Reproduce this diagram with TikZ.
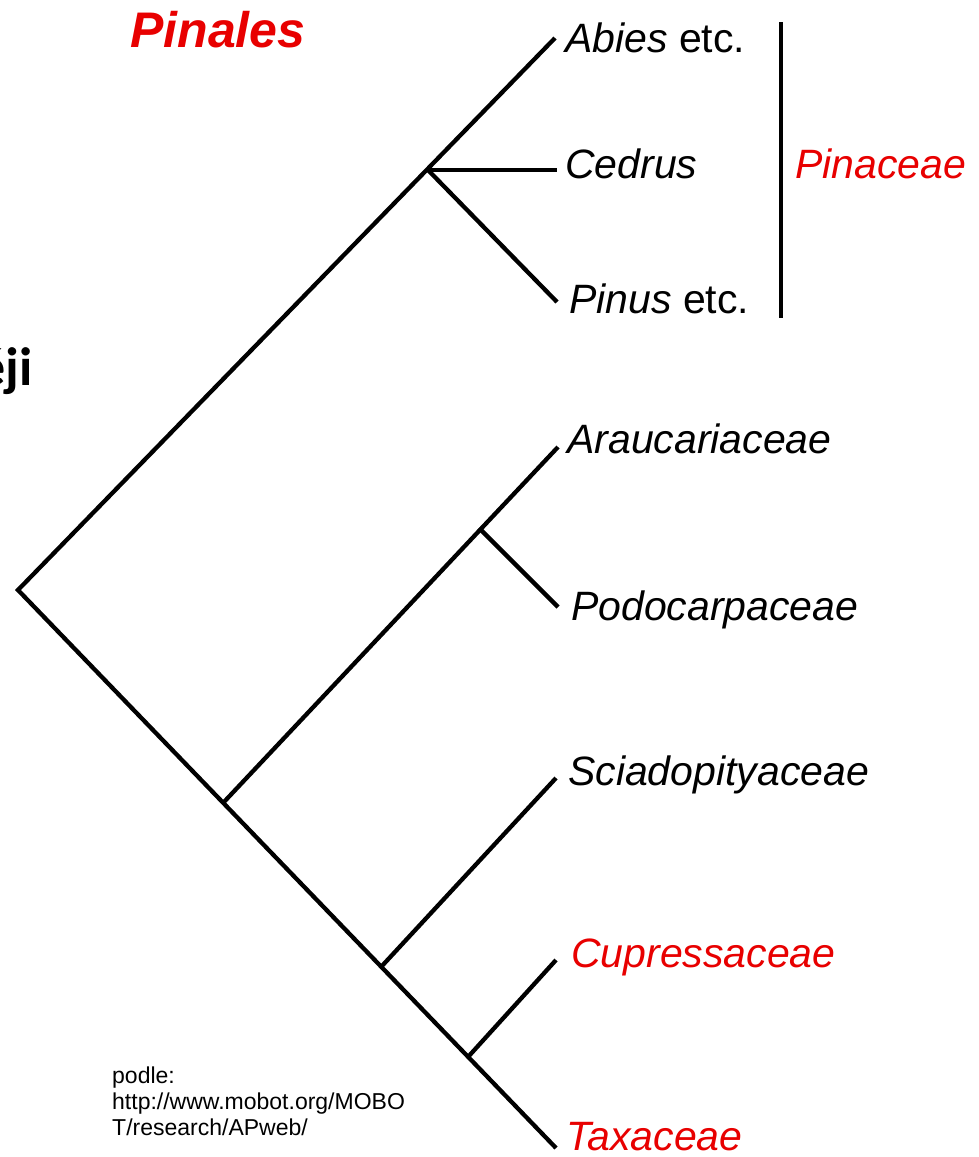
\documentclass[tikz,border=0pt]{standalone}
\usepackage{fontspec}
\setmainfont{Liberation Sans}
\newfontfamily\calfont{Carlito}
\definecolor{tred}{RGB}{232,0,0}
\begin{document}
\begin{tikzpicture}[x=1pt,y=-1pt,
  branch/.style={line width=4.3pt,black,line cap=butt,line join=miter},
  taxon/.style={anchor=base west,inner sep=0pt,font=\fontsize{41}{49}\selectfont\itshape},
  redtaxon/.style={taxon,text=tred},
  note/.style={anchor=base west,inner sep=0pt,font=\fontsize{23}{26}\selectfont}]
\useasboundingbox (0,0) rectangle (978,1157);
\clip (0,0) rectangle (978,1157);
\fill[white] (0,0) rectangle (978,1157);
% coordinates
\coordinate (root) at (18,590);
\coordinate (pin) at (428,170);
\coordinate (arpo) at (223,803);
\coordinate (ap) at (479,528);
\coordinate (scct) at (381,967);
\coordinate (ct) at (468,1057);
\coordinate (tAbies) at (555,38);
\coordinate (tCedrus) at (557,170);
\coordinate (tPinus) at (557,302);
\coordinate (tArau) at (558,447);
\coordinate (tPodo) at (558,607);
\coordinate (tScia) at (556,778);
\coordinate (tCupr) at (556,960);
\coordinate (tTaxa) at (556,1148);
% labels
\node[text=tred,anchor=base west,inner sep=0pt,font=\fontsize{50}{60}\selectfont\bfseries\itshape] (pinales) at (130,47) {Pinales};
\node[taxon] (abies) at (565,52) {Abies \upshape etc.};
\node[taxon] (cedrus) at (565,178) {Cedrus};
\node[taxon] (pinus) at (569,313) {Pinus \upshape etc.};
\node[taxon] (arau) at (567,453) {Araucariaceae};
\node[taxon] (podo) at (571,620) {Podocarpaceae};
\node[taxon] (scia) at (568,785) {Sciadopityaceae};
\node[redtaxon] (cupr) at (571,967) {Cupressaceae};
\node[redtaxon] (taxa) at (566,1150) {Taxaceae};
\node[redtaxon] (pinaceae) at (795,178) {Pinaceae};
\coordinate (barTop) at (781,22);
\coordinate (barBot) at (781,318);
\draw[line width=4pt] (barTop) -- (barBot);
\node[anchor=base east,inner sep=0pt,font=\calfont\bfseries\fontsize{54}{60}\selectfont] (frag) at (33,385) {ěji};
\node[note] (n1) at (112,1083) {podle:};
\node[note] (n2) at (112,1109) {http://www.mobot.org/MOBO};
\node[note] (n3) at (112,1135) {T/research/APweb/};
% tree
\draw[branch] (tAbies) -- (root) -- (tTaxa);
\draw[branch] (pin) -- (tCedrus);
\draw[branch] (pin) -- (tPinus);
\draw[branch] (arpo) -- (tArau);
\draw[branch] (ap) -- (tPodo);
\draw[branch] (scct) -- (tScia);
\draw[branch] (ct) -- (tCupr);
\end{tikzpicture}
\end{document}
